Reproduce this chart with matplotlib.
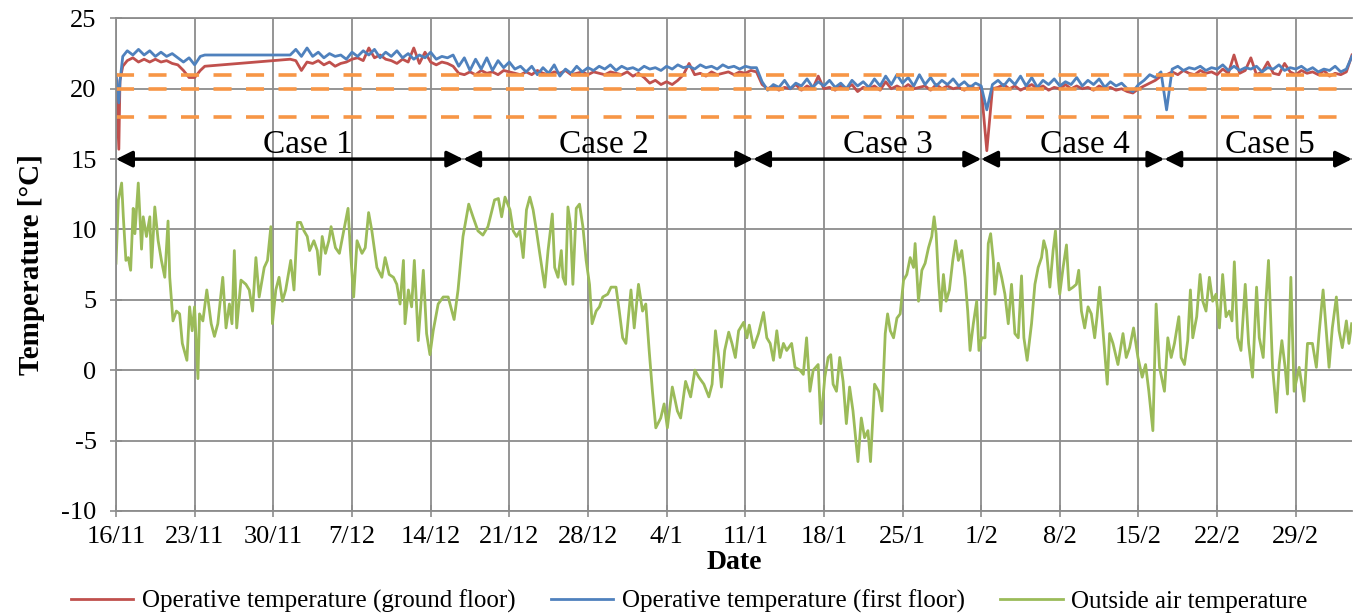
import numpy as np
import pandas as pd
import matplotlib
matplotlib.use('Agg')
import matplotlib.pyplot as plt

plt.rcParams['font.family'] = ['Liberation Serif', 'DejaVu Serif']
plt.rcParams['axes.unicode_minus'] = False

start = pd.Timestamp('2015-11-16')

# outside air temperature: days after 16/11 and degC
out_days = [0.0, 0.21, 0.50, 0.65, 0.88, 1.09, 1.30, 1.53, 1.68, 1.98, 2.27, 2.42, 2.71, 3.01, 3.16,
            3.45, 3.75, 4.04, 4.34, 4.63, 4.78, 5.07, 5.37, 5.66, 5.90, 6.31, 6.55, 6.78, 6.99, 7.29,
            7.43, 7.73, 8.08, 8.47, 8.76, 9.06, 9.50, 9.79, 10.09, 10.32, 10.53, 10.74, 11.12, 11.56,
            11.86, 12.15, 12.45, 12.74, 13.19, 13.48, 13.78, 13.92, 14.22, 14.51, 14.81, 15.10, 15.55,
            15.84, 16.14, 16.43, 16.73, 17.02, 17.23, 17.61, 17.91, 18.11, 18.35, 18.64, 18.94, 19.14,
            19.53, 19.88, 20.27, 20.65, 20.86, 21.15, 21.45, 21.89, 22.18, 22.48, 22.77, 23.22, 23.66,
            23.95, 24.31, 24.69, 24.99, 25.28, 25.58, 25.72, 26.02, 26.31, 26.55, 26.90, 27.35, 27.64,
            27.94, 28.23, 28.67, 29.12, 29.56, 30.09, 30.44, 30.88, 31.39, 31.77, 32.21, 32.65, 33.10,
            33.69, 34.03, 34.32, 34.62, 35.06, 35.35, 35.65, 35.94, 36.24, 36.53, 36.83, 37.12, 37.42,
            37.71, 38.16, 38.45, 38.83, 39.04, 39.34, 39.63, 39.78, 40.01, 40.22, 40.43, 40.66, 40.96,
            41.25, 41.55, 41.84, 42.14, 42.37, 42.73, 43.02, 43.32, 43.76, 44.06, 44.50, 44.79, 45.09,
            45.38, 45.83, 46.12, 46.50, 46.86, 47.15, 47.45, 47.74, 48.04, 48.48, 48.78, 49.07, 49.51,
            49.96, 50.25, 50.69, 51.14, 51.52, 51.87, 52.32, 52.76, 53.05, 53.35, 53.64, 53.88, 54.17,
            54.53, 54.82, 55.12, 55.41, 55.86, 56.15, 56.36, 56.74, 57.18, 57.63, 57.92, 58.22, 58.51,
            58.81, 59.10, 59.40, 59.69, 60.13, 60.43, 60.87, 61.17, 61.46, 61.76, 62.05, 62.49, 62.73,
            63.08, 63.38, 63.61, 63.82, 64.12, 64.41, 64.71, 65.00, 65.29, 65.59, 65.88, 66.03, 66.33,
            66.62, 66.92, 67.15, 67.51, 67.87, 68.17, 68.46, 68.67, 68.91, 69.20, 69.50, 69.79, 70.09,
            70.38, 70.68, 70.98, 71.12, 71.42, 71.72, 72.01, 72.31, 72.60, 72.81, 72.99, 73.20, 73.40,
            73.64, 73.88, 74.17, 74.47, 74.73, 74.97, 75.27, 75.56, 75.80, 76.01, 76.30, 76.60, 76.80,
            77.04, 77.34, 77.63, 77.84, 78.08, 78.22, 78.52, 78.82, 79.11, 79.41, 79.70, 80.00, 80.30,
            80.59, 80.80, 81.09, 81.48, 81.78, 82.07, 82.37, 82.57, 82.81, 83.11, 83.40, 83.61, 83.85,
            83.99, 84.29, 84.59, 84.82, 85.18, 85.47, 85.68, 85.92, 86.21, 86.51, 86.80, 87.10, 87.31,
            87.54, 87.84, 88.22, 88.43, 88.73, 89.17, 89.62, 89.91, 90.21, 90.56, 90.95, 91.33, 91.63,
            91.92, 92.28, 92.57, 92.87, 93.31, 93.61, 93.91, 94.20, 94.59, 94.79, 95.09, 95.38, 95.62,
            95.83, 96.18, 96.48, 96.72, 97.01, 97.31, 97.60, 97.90, 98.20, 98.49, 98.79, 99.08, 99.32,
            99.53, 99.82, 100.12, 100.50, 100.80, 101.15, 101.51, 101.75, 102.10, 102.34, 102.57,
            102.93, 103.28, 103.52, 103.76, 104.05, 104.26, 104.56, 104.85, 105.30, 105.74, 106.04,
            106.48, 106.83, 107.07, 107.43, 107.66, 107.96, 108.25, 108.61, 108.85, 109.14, 109.50,
            109.73, 109.97]
out_temp = [7.6, 12.1, 13.3, 10.9, 7.8, 8.0, 7.1, 11.5, 9.7, 13.3, 8.6, 10.9, 9.5, 10.9, 7.3,
            11.6, 9.2, 7.8, 6.6, 10.6, 6.6, 3.5, 4.2, 4.0, 1.9, 0.7, 4.5, 2.8, 4.5, -0.6,
            4.0, 3.5, 5.7, 3.3, 2.4, 3.3, 6.6, 3.0, 4.7, 3.3, 8.5, 3.0, 6.4, 6.1,
            5.7, 4.2, 8.0, 5.2, 7.3, 7.8, 10.2, 3.3, 5.7, 6.6, 4.9, 5.7, 7.8,
            5.7, 10.5, 10.5, 9.9, 9.5, 8.5, 9.2, 8.5, 6.8, 9.5, 8.3, 9.2, 10.2,
            8.7, 8.3, 9.9, 11.5, 8.5, 5.2, 9.2, 8.3, 8.7, 11.2, 9.9, 7.3, 6.6,
            8.0, 6.8, 6.6, 6.1, 4.7, 7.8, 3.3, 5.7, 4.5, 7.8, 2.1, 7.1, 2.6,
            1.1, 2.8, 4.7, 5.2, 5.2, 3.6, 5.7, 9.5, 11.8, 10.9, 9.9, 9.6, 10.2,
            12.1, 12.2, 10.9, 12.3, 11.4, 9.9, 9.5, 9.9, 8.0, 11.4, 12.3, 11.4, 9.9,
            8.3, 5.9, 8.5, 11.1, 7.3, 6.6, 8.5, 6.6, 6.1, 11.6, 10.4, 6.1, 11.5,
            11.8, 10.2, 7.8, 6.1, 3.3, 4.2, 4.5, 5.2, 5.4, 5.9, 5.9, 4.2, 2.3,
            1.9, 5.7, 3.0, 6.1, 4.2, 4.7, 1.4, -1.5, -4.1, -3.4, -2.4, -4.1, -1.2,
            -2.9, -3.4, -0.8, -1.9, 0.0, -0.5, -1.0, -1.9, -1.0, 2.8, 0.9, -1.2, 1.4,
            2.7, 1.9, 0.9, 2.8, 3.4, 2.3, 3.2, 1.6, 2.6, 4.1, 2.3, 1.9, 0.7,
            2.8, 0.9, 1.9, 1.4, 1.9, 0.2, 0.0, -0.3, 2.3, -1.5, 0.0, 0.4, -3.8,
            -0.5, 0.9, 1.1, -1.0, -1.5, 0.9, -0.8, -3.8, -1.2, -2.9, -5.3, -6.5, -3.4,
            -4.8, -4.3, -6.5, -1.0, -1.5, -2.9, 2.6, 4.0, 2.8, 2.3, 3.7, 4.0, 6.4,
            6.8, 8.0, 7.3, 9.0, 4.9, 7.1, 7.6, 8.7, 9.5, 10.9, 9.7, 6.4, 4.2,
            6.8, 4.9, 5.7, 7.8, 9.2, 7.8, 8.5, 6.6, 4.2, 1.4, 3.3, 4.9, 1.4,
            2.3, 2.3, 9.0, 9.7, 7.8, 5.4, 7.6, 6.6, 5.4, 3.3, 6.1, 2.6, 2.3,
            6.7, 2.3, 0.7, 3.3, 6.1, 7.3, 8.0, 9.2, 8.5, 5.9, 8.5, 9.9, 6.6,
            5.4, 7.3, 8.9, 5.7, 5.9, 6.1, 7.1, 4.2, 3.0, 4.5, 4.0, 2.3, 3.8,
            5.9, 2.8, -1.0, 2.6, 1.9, 0.4, 2.6, 0.9, 1.6, 3.0, 0.9, -0.5, 0.4,
            -1.5, -4.3, 4.7, 0.2, -1.5, 2.3, 0.9, 1.9, 3.8, 0.9, 0.4, 2.1, 5.7,
            2.3, 3.8, 6.8, 4.9, 4.2, 6.6, 4.9, 5.4, 3.0, 6.8, 3.8, 4.2, 3.5,
            7.7, 2.3, 1.4, 6.1, 1.9, -0.5, 5.9, 2.3, 0.9, 4.9, 7.8,
            0.2, -3.0, 0.4, 2.1, 0.2, -1.7, 6.6, -1.5, 0.2, -2.2, 1.9,
            1.9, 0.2, 2.6, 5.7, 3.3, 0.2, 3.0, 5.2, 2.8, 1.6, 3.5,
            1.9, 3.3]

# operative temperatures before the logging gap (23/11 - 1/12)
ind_days_a = [0.0, 0.25, 0.35, 0.6, 1.0, 1.5, 2.0, 2.5, 3.0, 3.5, 4.0, 4.5, 5.0, 5.5, 6.0, 6.5,
              7.0, 7.5, 7.9]
ground_a = [21.0, 15.7, 20.6, 21.6, 22.0, 22.2, 21.9, 22.1, 21.9, 22.1, 21.9, 22.0, 21.8, 21.7,
            21.3, 20.8, 20.8, 21.3, 21.6]
first_a = [21.0, 19.0, 20.5, 22.3, 22.7, 22.4, 22.8, 22.4, 22.7, 22.3, 22.6, 22.3, 22.5, 22.2,
           21.9, 22.2, 21.7, 22.3, 22.4]

# after the gap: one value every half day from day 15.5 to day 110
ground_b = [
    22.1, 22.0, 21.3, 21.9, 21.8, 22.0, 21.7, 21.9, 21.6, 21.8, 21.9, 22.1, 22.2, 22.0,
    22.9, 22.2, 22.4, 22.1, 22.0, 21.8, 22.1, 21.9, 22.9, 21.8, 22.6, 21.9, 21.7, 21.9,
    21.8, 21.6, 21.1, 21.0, 21.2, 21.0, 21.3, 21.1, 21.2, 21.0, 21.3, 21.2, 21.1, 21.0,
    21.2, 21.0, 21.3, 21.1, 21.0, 21.2, 21.1, 21.3, 21.0, 21.1, 21.2, 21.0, 21.2, 21.1,
    21.0, 21.2, 21.1, 21.0, 21.2, 20.9, 21.1, 20.8, 20.4, 20.6, 20.3, 20.5, 20.3, 20.6,
    21.0, 21.8, 21.0, 21.1, 20.9, 21.2, 21.0, 21.1, 21.2, 21.0, 21.2, 21.1, 21.3, 21.2,
    20.3, 20.0, 20.2, 19.9, 20.1, 20.0, 20.3, 19.9, 20.2, 20.0, 20.9, 20.0, 20.1, 19.9,
    20.2, 20.0, 20.3, 19.8, 20.1, 20.0, 20.2, 19.9, 20.5, 20.0, 20.2, 20.0, 20.3, 20.0,
    20.1, 20.2, 19.9, 20.3, 20.0, 20.2, 20.0, 20.1, 19.9, 20.2, 20.0, 20.1, 15.6, 20.0,
    20.1, 20.3, 20.0, 20.2, 19.9, 20.1, 20.3, 20.0, 20.2, 19.9, 20.1, 20.0, 20.3, 20.0,
    20.2, 20.0, 20.1, 19.9, 20.2, 20.0, 20.1, 19.9, 20.0, 19.8, 19.7, 20.0, 20.2, 20.4,
    20.6, 20.9, 21.0, 21.2, 21.0, 21.3, 21.1, 21.0, 21.3, 21.1, 21.2, 21.0, 21.4, 21.1,
    22.4, 21.1, 21.3, 22.2, 21.0, 21.2, 21.9, 21.1, 21.0, 21.8, 21.2, 21.0, 21.3, 21.1,
    21.2, 21.0, 21.3, 20.9, 21.1, 21.0, 21.2, 22.4]
first_b = [
    22.4, 22.8, 22.3, 22.9, 22.3, 22.6, 22.2, 22.5, 22.3, 22.4, 22.1, 22.6, 22.3, 22.7,
    22.4, 22.8, 22.2, 22.6, 22.3, 22.7, 22.2, 22.5, 22.1, 22.4, 22.2, 22.6, 22.1, 22.3,
    22.2, 22.4, 21.6, 22.2, 21.3, 22.1, 21.4, 22.2, 21.3, 22.0, 21.5, 21.9, 21.4, 21.6,
    21.2, 21.6, 21.0, 21.5, 21.1, 21.7, 20.9, 21.4, 21.1, 21.6, 21.2, 21.5, 21.3, 21.6,
    21.4, 21.7, 21.3, 21.6, 21.4, 21.5, 21.3, 21.6, 21.4, 21.5, 21.3, 21.6, 21.4, 21.7,
    21.5, 21.6, 21.4, 21.7, 21.5, 21.6, 21.4, 21.7, 21.5, 21.6, 21.4, 21.6, 21.5, 21.5,
    20.5, 19.9, 20.3, 20.1, 20.6, 20.0, 20.4, 20.2, 20.7, 20.1, 20.5, 20.2, 20.6, 20.1,
    20.4, 20.0, 20.6, 20.2, 20.5, 20.1, 20.7, 20.2, 20.9, 20.3, 21.0, 20.4, 20.8, 20.2,
    21.0, 20.3, 20.8, 20.2, 20.6, 20.3, 20.7, 20.2, 20.5, 20.1, 20.4, 20.2, 18.5, 20.3,
    20.6, 20.2, 20.7, 20.3, 20.9, 20.2, 20.8, 20.1, 20.6, 20.3, 20.7, 20.2, 20.5, 20.3,
    20.8, 20.2, 20.6, 20.3, 20.7, 20.1, 20.5, 20.2, 20.4, 20.0, 19.8, 20.3, 20.6, 21.0,
    20.8, 21.2, 18.5, 21.4, 21.6, 21.3, 21.5, 21.4, 21.6, 21.3, 21.5, 21.4, 21.7, 21.3,
    21.6, 21.3, 21.5, 21.4, 21.6, 21.2, 21.5, 21.4, 21.7, 21.3, 21.5, 21.4, 21.6, 21.3,
    21.5, 21.2, 21.4, 21.3, 21.6, 21.2, 21.4, 22.3]

setpoints = [21, 20, 18]
case_names = ['Case 1', 'Case 2', 'Case 3', 'Case 4', 'Case 5']
case_edges = [0.0, 30.9, 56.7, 77.0, 93.3, 110.0]

ind_days_b = 15.5 + 0.5 * np.arange(len(ground_b))
ind_days = np.concatenate([ind_days_a, ind_days_b])
ground = np.concatenate([ground_a, ground_b])
first = np.concatenate([first_a, first_b])

red = '#C0504D'
blue = '#4F81BD'
green = '#9BBB59'
orange = '#F79646'
grey = '#8C8C8C'

fig = plt.figure(figsize=(13.57, 6.14), dpi=100)
ax = fig.add_axes([0.0855, 0.168, 0.9108, 0.802])

ax.plot(ind_days, ground, color=red, lw=2.0, label='Operative temperature (ground floor)')
ax.plot(ind_days, first, color=blue, lw=2.0, label='Operative temperature (first floor)')
ax.plot(out_days, out_temp, color=green, lw=2.0, label='Outside air temperature')
for sp in setpoints:
    ax.plot([ind_days[0], ind_days[-1] - 1.3], [sp, sp], color=orange, lw=2.6,
            dashes=(5, 4))

# case arrows
for i, name in enumerate(case_names):
    a, b = case_edges[i], case_edges[i + 1]
    ax.annotate('', xy=(b, 15), xytext=(a, 15),
                arrowprops=dict(arrowstyle='<|-|>', color='black', lw=2.5,
                                mutation_scale=24, shrinkA=0, shrinkB=0))
label_days = [17.1, 43.4, 68.7, 86.2, 102.7]
for name, d in zip(case_names, label_days):
    ax.text(d, 15.45, name, ha='center', va='baseline', fontsize=24)

tick_days = np.arange(0, 106, 7)
tick_dates = start + pd.to_timedelta(tick_days, unit='D')
ax.set_xticks(tick_days)
ax.set_xticklabels([f'{d.day}/{d.month}' for d in tick_dates], fontsize=19)
ax.set_xlim(0, 110)
ax.set_ylim(-10, 25)
ax.set_yticks(np.arange(-10, 26, 5))
ax.tick_params(axis='y', labelsize=19, pad=10)
ax.tick_params(axis='x', pad=7)
ax.tick_params(direction='inout', length=8, color=grey, width=1.2)

ax.grid(True, color=grey, lw=1.3)
ax.set_axisbelow(True)
for side in ['left', 'bottom', 'top']:
    ax.spines[side].set_color(grey)
    ax.spines[side].set_linewidth(1.3)
ax.spines['right'].set_visible(False)

ax.set_xlabel('Date', fontsize=20, fontweight='bold', labelpad=1)
ax.set_ylabel('Temperature [°C]', fontsize=21, fontweight='bold', labelpad=12)

fig.legend(loc='lower center', bbox_to_anchor=(0.508, -0.035), ncol=3, frameon=False,
           fontsize=18, columnspacing=1.4, handlelength=2.5, handletextpad=0.35)

fig.savefig('out.png', dpi=100)
